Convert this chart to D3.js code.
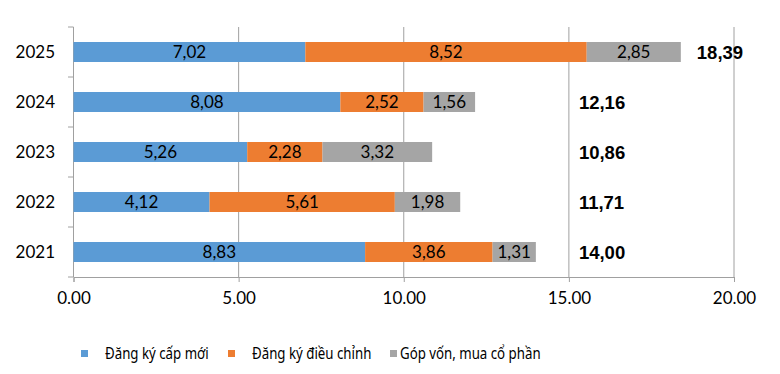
<!DOCTYPE html>
<html lang="vi">
<head>
<meta charset="UTF-8">
<title>Vốn đăng ký</title>
<script src="https://d3js.org/d3.v7.min.js"></script>
<style>
  body { margin: 0; background: #fff; }
  svg text { font-family: Lato, "Open Sans", sans-serif; fill: #000; }
  .grid line { stroke: #a0a0a0; }
  .legend text { font-family: "Noto Sans", "Open Sans", sans-serif; }
</style>
</head>
<body>
<svg id="chart"></svg>
<script>
const years = ['2025', '2024', '2023', '2022', '2021'];
const seriesNames = ['Đăng ký cấp mới', 'Đăng ký điều chỉnh', 'Góp vốn, mua cổ phần'];
const capMoi = [7.02, 8.08, 5.26, 4.12, 8.83];
const dieuChinh = [8.52, 2.52, 2.28, 5.61, 3.86];
const gopVon = [2.85, 1.56, 3.32, 1.98, 1.31];
const totals = [18.39, 12.16, 10.86, 11.71, 14.00];
const xTicks = [0, 5, 10, 15, 20];
const colors = ['#5b9bd5', '#ed7d31', '#a5a5a5'];

const width = 780, height = 374;
const svg = d3.select('#chart').attr('width', width).attr('height', height);

const x = d3.scaleLinear().domain([0, 20]).range([73.5, 734]);
const y = d3.scaleBand().domain(years).range([27, 277]).paddingInner(0.6).paddingOuter(0.3);

// table for stacking
const rows = years.map((yr, i) => ({ year: yr, s0: capMoi[i], s1: dieuChinh[i], s2: gopVon[i] }));
const stacked = d3.stack().keys(['s0', 's1', 's2'])(rows);

// vertical gridlines
svg.append('g').attr('class', 'grid')
  .selectAll('line').data(xTicks.slice(1)).join('line')
  .attr('x1', d => x(d)).attr('x2', d => x(d))
  .attr('y1', 27).attr('y2', 277);

// bottom axis
const xAxis = svg.append('g').attr('transform', 'translate(0,277)')
  .call(d3.axisBottom(x).tickValues(xTicks).tickFormat(d3.format('.2f')).tickSize(5).tickPadding(10));
xAxis.selectAll('line, path').attr('stroke', '#a0a0a0');
xAxis.selectAll('text').attr('font-size', 17).attr('font-family', 'Lato').attr('fill', '#000');

// left axis, ticks between categories
const yAx = svg.append('g');
yAx.append('line').attr('x1', 73.5).attr('x2', 73.5).attr('y1', 27).attr('y2', 277).attr('stroke', '#a0a0a0');
const step = y.step();
yAx.selectAll('line.tk').data(d3.range(years.length + 1)).join('line')
  .attr('class', 'tk')
  .attr('x1', 68).attr('x2', 73.5)
  .attr('y1', i => 27 + i * step).attr('y2', i => 27 + i * step)
  .attr('stroke', '#a0a0a0');
yAx.selectAll('text').data(years).join('text')
  .attr('x', 55).attr('y', d => y(d) + y.bandwidth() / 2)
  .attr('text-anchor', 'end').attr('dy', '0.35em')
  .attr('font-size', 17).text(d => d);

// bars
const fmt = v => v.toFixed(2).replace('.', ',');
const layers = svg.append('g').selectAll('g').data(stacked).join('g')
  .attr('fill', (d, i) => colors[i]);
layers.selectAll('rect').data(d => d).join('rect')
  .attr('x', d => x(d[0]))
  .attr('width', d => x(d[1]) - x(d[0]))
  .attr('y', d => y(d.data.year))
  .attr('height', y.bandwidth());

// segment labels
svg.append('g').selectAll('g').data(stacked).join('g')
  .selectAll('text').data(d => d).join('text')
  .attr('x', d => (x(d[0]) + x(d[1])) / 2)
  .attr('y', d => y(d.data.year) + y.bandwidth() / 2)
  .attr('dy', '0.36em').attr('text-anchor', 'middle')
  .attr('font-size', 17).attr('fill', '#111')
  .text(d => fmt(d[1] - d[0]));

// totals
svg.append('g').selectAll('text').data(years).join('text')
  .attr('x', (d, i) => Math.max(x(15) + 10, x(totals[i]) + 16))
  .attr('y', d => y(d) + y.bandwidth() / 2)
  .attr('dy', '0.36em')
  .style('font-family', '"Liberation Sans", Arial, sans-serif')
  .attr('font-weight', 'bold').attr('font-size', 18.5)
  .text((d, i) => fmt(totals[i]));

// legend (Noto Sans squeezed horizontally to look like a narrow font)
const legendX = [81, 228, 390];
const textX = [105, 252, 400];
const lg = svg.append('g').attr('class', 'legend').selectAll('g').data(seriesNames).join('g');
lg.append('rect')
  .attr('x', (d, i) => legendX[i]).attr('y', 350).attr('width', 7).attr('height', 7)
  .attr('fill', (d, i) => colors[i]);
lg.append('text')
  .attr('transform', (d, i) => `translate(${textX[i]},353.5) scale(0.83,1)`)
  .attr('dy', '0.35em')
  .attr('font-size', 16).text(d => d);
</script>
</body>
</html>
